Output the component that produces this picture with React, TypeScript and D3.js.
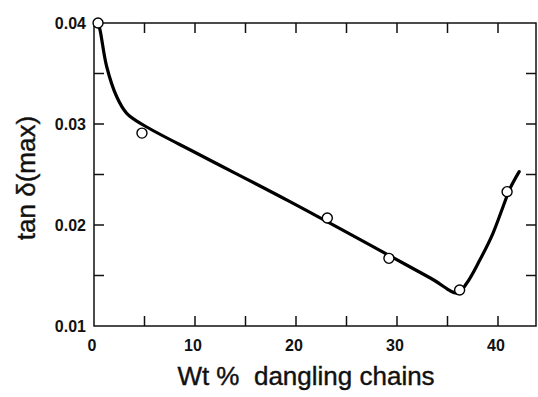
import React, { useEffect, useRef } from "react";
import * as d3 from "d3";

// measured points (open circles)
const pointX = [0.4, 4.75, 23.1, 29.2, 36.2, 40.9];
const pointY = [0.04, 0.0291, 0.0207, 0.0167, 0.01356, 0.0233];

// smooth fitted curve
const curveX = [0.4, 0.6, 1.26, 2.25, 3.24, 4.88, 10.5, 19.4, 33.3, 36.0, 36.9, 38.2, 39.5, 40.5, 41.2, 42.1];
const curveY = [0.04, 0.0393, 0.03567, 0.0327, 0.03106, 0.0299, 0.02693, 0.02231, 0.01475, 0.01327, 0.01423, 0.01653, 0.01918, 0.02181, 0.02363, 0.02528];

const xTickLabels = [0, 10, 20, 30, 40];
const xMinorTicks = [5, 10, 15, 20, 25, 30, 35, 40];
const yTickLabels = [0.01, 0.02, 0.03, 0.04];
const yMinorTicks = [0.015, 0.02, 0.025, 0.03, 0.035];

const W = 538;
const H = 397;

const App: React.FC = () => {
  const ref = useRef<SVGSVGElement>(null);

  useEffect(() => {
    if (!ref.current) return;
    const svg = d3.select(ref.current);
    svg.selectAll("*").remove();

    const left = 94, right = 536, top = 23, bottom = 326;
    const x = d3.scaleLinear().domain([0, (right - left) / 10.1]).range([left, right]);
    const y = d3.scaleLinear().domain([0.01, 0.04]).range([bottom, top]);

    const font = "'Liberation Sans', Arial, sans-serif";

    // frame
    svg.append("rect")
      .attr("x", left).attr("y", top)
      .attr("width", right - left).attr("height", bottom - top)
      .attr("fill", "none").attr("stroke", "#111").attr("stroke-width", 1.5);

    const tl = 10;
    // bottom + top ticks
    svg.append("g").selectAll("line.b").data(xMinorTicks).enter().append("line")
      .attr("x1", (d) => x(d)).attr("x2", (d) => x(d))
      .attr("y1", bottom).attr("y2", bottom - tl)
      .attr("stroke", "#111").attr("stroke-width", 1.5);
    svg.append("g").selectAll("line.t").data(xMinorTicks).enter().append("line")
      .attr("x1", (d) => x(d)).attr("x2", (d) => x(d))
      .attr("y1", top).attr("y2", top + tl)
      .attr("stroke", "#111").attr("stroke-width", 1.5);
    // left + right ticks
    svg.append("g").selectAll("line.l").data(yMinorTicks).enter().append("line")
      .attr("x1", left).attr("x2", left + tl)
      .attr("y1", (d) => y(d)).attr("y2", (d) => y(d))
      .attr("stroke", "#111").attr("stroke-width", 1.5);
    svg.append("g").selectAll("line.r").data(yMinorTicks).enter().append("line")
      .attr("x1", right).attr("x2", right - tl)
      .attr("y1", (d) => y(d)).attr("y2", (d) => y(d))
      .attr("stroke", "#111").attr("stroke-width", 1.5);

    // tick labels
    svg.append("g").selectAll("text").data(xTickLabels).enter().append("text")
      .attr("x", (d) => x(d) - 2).attr("y", bottom + 25)
      .attr("text-anchor", "middle")
      .style("font-family", font).style("font-size", "16px").style("font-weight", "bold")
      .attr("fill", "#111")
      .text((d) => String(d));
    svg.append("g").selectAll("text").data(yTickLabels).enter().append("text")
      .attr("x", left - 8).attr("y", (d) => y(d)).attr("dy", "0.35em")
      .attr("text-anchor", "end")
      .style("font-family", font).style("font-size", "16px").style("font-weight", "bold")
      .attr("fill", "#111")
      .text((d) => d3.format(".2f")(d));

    // axis titles
    svg.append("text")
      .attr("x", 306).attr("y", 385)
      .attr("text-anchor", "middle")
      .style("font-family", font).style("font-size", "26px")
      .attr("fill", "#111").attr("stroke", "#111").attr("stroke-width", 0.4)
      .attr("xml:space", "preserve")
      .text("Wt %  dangling chains");
    svg.append("text")
      .attr("transform", "translate(35,178) rotate(-90)")
      .attr("text-anchor", "middle")
      .style("font-family", font).style("font-size", "26px")
      .attr("fill", "#111").attr("stroke", "#111").attr("stroke-width", 0.4)
      .text("tan δ(max)");

    // fitted curve
    const curveData = curveX.map((cx, i) => [cx, curveY[i]] as [number, number]);
    const line = d3.line<[number, number]>()
      .x((d) => x(d[0])).y((d) => y(d[1]))
      .curve(d3.curveCatmullRom.alpha(0.5));
    svg.append("path")
      .datum(curveData)
      .attr("d", line)
      .attr("fill", "none").attr("stroke", "#000").attr("stroke-width", 3.2)
      .attr("stroke-linejoin", "round").attr("stroke-linecap", "round");

    // points
    svg.append("g").selectAll("circle").data(pointX.map((px, i) => [px, pointY[i]])).enter()
      .append("circle")
      .attr("cx", (d) => x(d[0])).attr("cy", (d) => y(d[1]))
      .attr("r", 5)
      .attr("fill", "#fff").attr("stroke", "#000").attr("stroke-width", 1.4);
  }, []);

  return (
    <svg ref={ref} width={W} height={H}
      style={{ position: "absolute", left: 0, top: 0, background: "#fff" }} />
  );
};

export default App;
